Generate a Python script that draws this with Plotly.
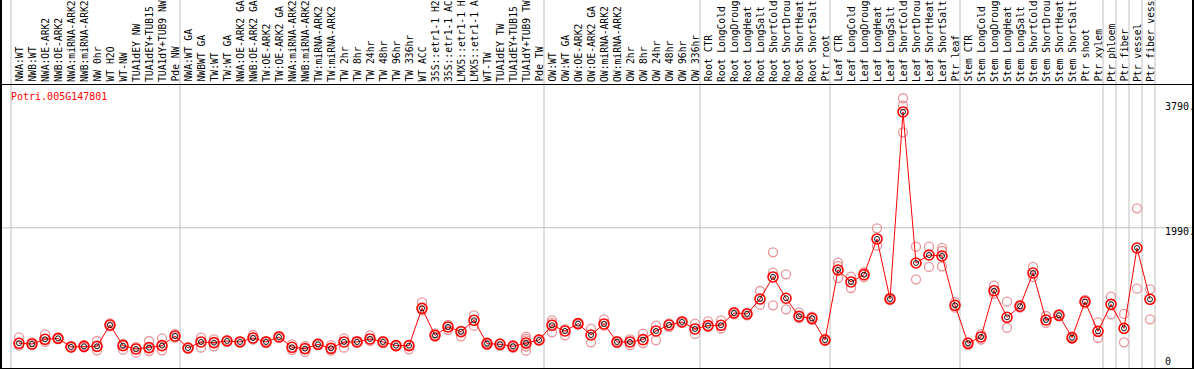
import plotly.graph_objects as go

gene = "Potri.005G147801"

labels = [
    "NWA:WT", "NWB:WT", "NWA:OE-ARK2", "NWB:OE-ARK2", "NWA:miRNA-ARK2", "NWB:miRNA-ARK2",
    "NW 0hr", "WT H2O", "WT-NW", "TUA1dEY NW", "TUA1dEY+TUB15", "TUA1dY+TUB9 NW", "Pde NW",
    "NWA:WT GA", "NWBWT GA", "TW:WT", "TW:WT GA", "NWA:OE-ARK2 GA", "NWB:OE-ARK2 GA",
    "TW:OE-ARK2", "TW:OE-ARK2 GA", "NWA:miRNA-ARK2", "NWB:miRNA-ARK2", "TW:miRNA-ARK2",
    "TW:miRNA-ARK2", "TW 2hr", "TW 8hr", "TW 24hr", "TW 48hr", "TW 96hr", "TW 336hr",
    "WT ACC", "35S::etr1-1 H2", "35S::etr1-1 AC", "LMX5::etr1-1 H", "LMX5::etr1-1 A",
    "WT-TW", "TUA1dEY TW", "TUA1dEY+TUB15", "TUA1dY+TUB9 TW", "Pde TW",
    "OW:WT", "OW:WT GA", "OW:OE-ARK2", "OW:OE-ARK2 GA", "OW:miRNA-ARK2", "OW:miRNA-ARK2",
    "OW 2hr", "OW 8hr", "OW 24hr", "OW 48hr", "OW 96hr", "OW 336hr",
    "Root CTR", "Root LongCold", "Root LongDroug", "Root LongHeat", "Root LongSalt",
    "Root ShortCold", "Root ShortDrou", "Root ShortHeat", "Root ShortSalt", "Ptr root",
    "Leaf CTR", "Leaf LongCold", "Leaf LongDroug", "Leaf LongHeat", "Leaf LongSalt",
    "Leaf ShortCold", "Leaf ShortDrou", "Leaf ShortHeat", "Leaf ShortSalt", "Ptr leaf",
    "Stem CTR", "Stem LongCold", "Stem LongDroug", "Stem LongHeat", "Stem LongSalt",
    "Stem ShortCold", "Stem ShortDrou", "Stem ShortHeat", "Stem ShortSalt", "Ptr shoot",
    "Ptr xylem", "Ptr phloem", "Ptr fiber", "Ptr vessel", "Ptr fiber vess",
]

means = [
    327, 317, 384, 398, 274, 283, 283, 590, 293, 245, 264, 293, 432,
    259, 346, 336, 360, 346, 403, 346, 418, 269, 250, 312, 254, 346, 346, 389, 346, 293,
    293, 830, 441, 562, 494, 658, 322, 312, 283, 331, 374,
    586, 504, 610, 446, 605, 346, 346, 379, 504, 590, 634, 533,
    581, 586, 763, 749, 965, 1282, 975, 715, 686, 374,
    1382, 1210, 1315, 1829, 965, 3658, 1483, 1598, 1584, 874,
    327, 418, 1084, 701, 860, 1339, 662, 730, 408, 926, 499,
    888, 542, 1699, 960,
]

replicates = [
    [413, 292], [340, 300], [456, 346], [405, 390], [285, 265], [300, 270], [360, 226],
    [614, 570], [320, 235], [270, 192], [360, 216], [398, 226], [461, 410],
    [265, 250], [408, 264], [384, 283], [370, 350], [355, 340], [446, 380], [360, 330],
    [430, 405], [312, 230], [290, 202], [325, 300], [300, 220], [398, 264], [360, 335],
    [441, 360], [360, 330], [300, 285],
    [300, 240], [917, 800], [470, 420], [518, 590], [427, 510], [730, 581], [340, 300],
    [330, 290], [300, 260], [422, 395, 370, 310, 280, 221], [385, 365],
    [658, 485, 620], [441, 530], [620, 600], [533, 341], [672, 581], [360, 330],
    [384, 300], [466, 330], [581, 370], [614, 560], [645, 620], [610, 461],
    [643, 560], [658, 540], [780, 745], [765, 730], [1080, 883], [1637, 1344, 874],
    [1320, 816], [768, 690], [710, 660], [390, 360],
    [1488, 1267, 1440], [1286, 1123], [1350, 1280], [1982, 1733], [950, 980],
    [3855, 3754, 3365], [1718, 1248], [1718, 1426], [1656, 1436, 1700], [920, 840],
    [300, 340], [380, 460], [1156, 1040], [926, 552], [880, 840], [1426, 1280],
    [720, 620], [745, 715], [390, 420], [950, 900], [629, 403],
    [998, 744], [749, 341], [2270, 1113], [1104, 672],
]

group_starts = [0, 13, 41, 53, 63, 73, 84, 85, 86, 87, 88]
y_ticks = [3790, 1990, 0]
y_tick_text = ["3790.", "1990.", "0"]

MONO = "DejaVu Sans Mono"
x_idx = list(range(len(labels)))

rx, ry = [], []
for i, reps in enumerate(replicates):
    for v in reps:
        rx.append(i)
        ry.append(v)

fig = go.Figure()
fig.add_trace(go.Scatter(
    x=rx, y=ry, mode="markers",
    marker=dict(symbol="circle-open", size=9, color="#E8969A", line=dict(width=1.3)),
    hoverinfo="skip", showlegend=False))
fig.add_trace(go.Scatter(
    x=x_idx, y=means, mode="lines+markers",
    line=dict(color="#FF0000", width=1),
    marker=dict(symbol="circle-open", size=10, color="#FF0000", line=dict(width=1.6)),
    showlegend=False))
fig.add_trace(go.Scatter(
    x=x_idx, y=means, mode="markers",
    marker=dict(symbol="circle-open", size=5, color="#000000", line=dict(width=0.9)),
    showlegend=False, hoverinfo="skip"))

off = 8 / 13
shapes = []
for k in group_starts:
    shapes.append(dict(type="line", xref="x", yref="paper", x0=k - off, x1=k - off,
                       y0=0, y1=1.4, line=dict(color="#C0C0C0", width=1), layer="below"))
shapes.append(dict(type="line", xref="paper", yref="y", x0=0, x1=1, y0=y_ticks[1], y1=y_ticks[1],
                   line=dict(color="#C0C0C0", width=1), layer="below"))
# outer frame (extends over label area)
shapes.append(dict(type="line", xref="paper", yref="paper", x0=0, x1=0, y0=0, y1=1.4,
                   line=dict(color="black", width=2)))
shapes.append(dict(type="line", xref="paper", yref="paper", x0=1, x1=1, y0=0, y1=1.4,
                   line=dict(color="black", width=2)))

annotations = []
for i, lab in enumerate(labels):
    annotations.append(dict(x=i, y=1, xref="x", yref="paper", text=lab, showarrow=False,
                            textangle=-90, xanchor="center", yanchor="bottom", yshift=1,
                            font=dict(family=MONO, size=9.7, color="black")))
annotations.append(dict(x=8 / 1192, y=(368 - 97) / 283, xref="paper", yref="paper", text=gene,
                        showarrow=False, xanchor="left", yanchor="middle",
                        font=dict(family=MONO, size=10, color="#FF0000")))
for v, t in zip(y_ticks, y_tick_text):
    annotations.append(dict(x=1162 / 1192, y=v, xref="paper", yref="y", text=t, showarrow=False,
                            xanchor="left", yanchor="middle", yshift=(4 if v == 0 else -4),
                            font=dict(family=MONO, size=10, color="black")))

fig.update_layout(
    width=1194, height=370,
    margin=dict(l=1, r=1, t=85, b=2, pad=0),
    paper_bgcolor="white", plot_bgcolor="white",
    xaxis=dict(range=[-18 / 13, 1174 / 13], showgrid=False, zeroline=False, showticklabels=False,
               ticks="", showline=True, linecolor="black", linewidth=1, mirror=True),
    yaxis=dict(range=[-29, 4046], showgrid=False, zeroline=False, showticklabels=False,
               ticks="", showline=True, linecolor="black", linewidth=1, mirror=True),
    shapes=shapes, annotations=annotations, showlegend=False,
)

fig.write_html("out.html", config={"displayModeBar": False},
               post_script="document.body.style.margin='0';document.body.style.overflow='hidden';")
